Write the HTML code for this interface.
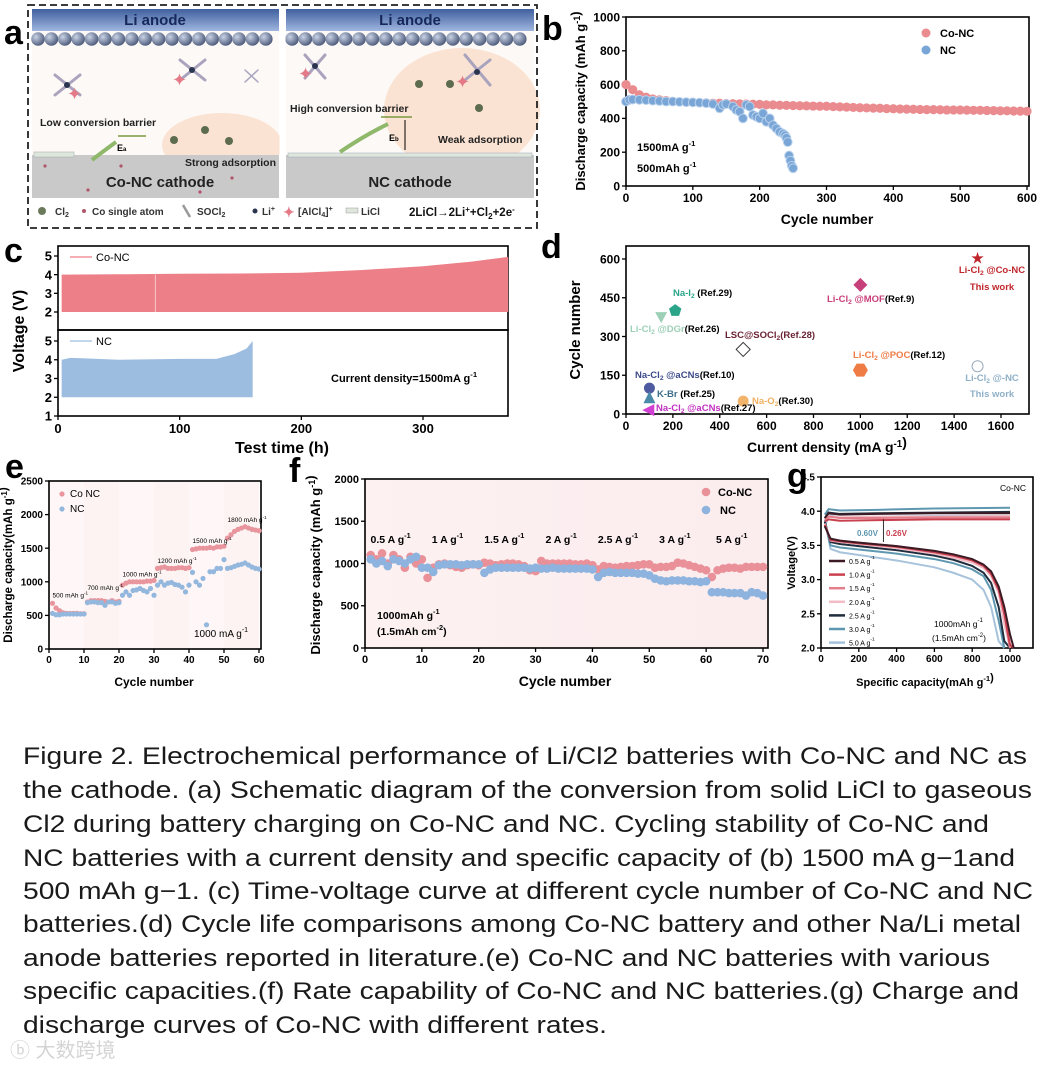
<!DOCTYPE html>
<html><head><meta charset="utf-8">
<style>
body{margin:0;background:#fff;width:1042px;height:1067px;overflow:hidden}
svg{display:block;font-family:"Liberation Sans",Arial,sans-serif}
.b{font-weight:bold}
</style></head>
<body>
<svg id="fig" width="1042" height="1067" viewBox="0 0 1042 1067">
<defs>
<linearGradient id="anode" x1="0" y1="0" x2="0" y2="1"><stop offset="0" stop-color="#3f5f9e"/><stop offset="1" stop-color="#9fb6df"/></linearGradient>
<radialGradient id="sph" cx="0.35" cy="0.35" r="0.7"><stop offset="0" stop-color="#c9d3e6"/><stop offset="1" stop-color="#4a5878"/></radialGradient>
<linearGradient id="fbg" x1="0" y1="0" x2="1" y2="0"><stop offset="0" stop-color="#fdf1f1"/><stop offset="1" stop-color="#fbecee"/></linearGradient>
</defs>

<!-- Panel a : schematic -->
<g>
<rect x="28" y="5" width="509" height="223" fill="#fff"/>
<rect x="32" y="9" width="247" height="189" fill="#fdf9f6"/>
<rect x="286" y="9" width="248" height="189" fill="#fdf9f6"/>
<ellipse cx="222" cy="145" rx="60" ry="32" fill="#fbe3d3"/>
<ellipse cx="462" cy="110" rx="78" ry="62" fill="#fbe3d3"/>
<rect x="32" y="9" width="247" height="22" fill="url(#anode)"/>
<rect x="286" y="9" width="248" height="22" fill="url(#anode)"/>
<text x="155" y="25" text-anchor="middle" class="b" font-size="15" fill="#16285a">Li anode</text>
<text x="410" y="25" text-anchor="middle" class="b" font-size="15" fill="#16285a">Li anode</text>
<g id="spheres"></g>
<rect x="32" y="155" width="247" height="43" fill="#c9c9c9"/>
<rect x="286" y="155" width="248" height="43" fill="#c9c9c9"/>
<rect x="34" y="152" width="40" height="5" fill="#dfe6dc" stroke="#9aa" stroke-width="0.5"/>
<rect x="288" y="153" width="244" height="4" fill="#dfe6dc" stroke="#9ab" stroke-width="0.5"/>
<path d="M92,160 Q105,150 116,142" stroke="#8fb86a" stroke-width="4" fill="none"/>
<path d="M340,152 Q365,135 388,124" stroke="#8fb86a" stroke-width="4" fill="none"/>
<line x1="118" y1="136" x2="146" y2="136" stroke="#7a9a40" stroke-width="1.5"/>
<line x1="381" y1="117" x2="412" y2="117" stroke="#7a9a40" stroke-width="1.5"/>
<line x1="405" y1="150" x2="405" y2="120" stroke="#000" stroke-width="1"/>
<text x="117" y="151" font-size="9" class="b">E<tspan font-size="6">a</tspan></text>
<text x="389" y="141" font-size="9" class="b">E<tspan font-size="6">b</tspan></text>
<text x="40" y="126" font-size="10.5" class="b" fill="#222">Low conversion barrier</text>
<text x="185" y="166" font-size="10.5" class="b" fill="#222">Strong adsorption</text>
<text x="290" y="112" font-size="10.5" class="b" fill="#222">High conversion barrier</text>
<text x="438" y="143" font-size="10.5" class="b" fill="#222">Weak adsorption</text>
<text x="160" y="187" text-anchor="middle" font-size="15" class="b" fill="#222">Co-NC cathode</text>
<text x="410" y="187" text-anchor="middle" font-size="15" class="b" fill="#222">NC cathode</text>
<g stroke="#a9a3be" stroke-width="3" stroke-linecap="round">
<path d="M55,75 L80,95 M80,75 L55,95 M180,60 L205,80 M205,60 L180,80 M305,55 L325,78 M325,55 L305,78 M465,55 L490,85 M490,60 L465,80"/>
<path d="M245,70 L258,82 M258,70 L245,82" stroke-width="1.5"/>
</g>
<g fill="#2b3550">
<circle cx="67" cy="85" r="3"/><circle cx="192" cy="70" r="3"/><circle cx="315" cy="66" r="3"/><circle cx="477" cy="72" r="3"/>
</g>
<g fill="#e47a87" font-size="18">
<text x="67" y="100">✦</text><text x="172" y="86">✦</text><text x="298" y="80">✦</text><text x="455" y="88">✦</text>
</g>
<g fill="#5d6b4e">
<circle cx="174" cy="140" r="4"/><circle cx="205" cy="130" r="4"/><circle cx="229" cy="141" r="4"/><circle cx="419" cy="84" r="4"/><circle cx="450" cy="84" r="4"/><circle cx="479" cy="108" r="4"/>
</g>
<g fill="#b0566a">
<circle cx="45" cy="166" r="1.6"/><circle cx="121" cy="166" r="1.6"/><circle cx="88" cy="190" r="1.6"/><circle cx="200" cy="192" r="1.6"/><circle cx="232" cy="178" r="1.6"/>
</g>
<g font-size="10" class="b" fill="#333">
<circle cx="42" cy="211" r="4" fill="#6b7a5b"/><text x="55" y="215">Cl<tspan font-size="7" dy="2">2</tspan></text>
<circle cx="84" cy="211" r="2" fill="#b0566a"/><text x="92" y="215">Co single atom</text>
<line x1="183" y1="205" x2="190" y2="217" stroke="#999" stroke-width="2.5"/><text x="197" y="215">SOCl<tspan font-size="7" dy="2">2</tspan></text>
<circle cx="255" cy="211" r="2.5" fill="#2b3550"/><text x="262" y="215">Li<tspan font-size="7" dy="-4">+</tspan></text>
<text x="283" y="217" fill="#e47a87" font-size="14">✦</text><text x="298" y="215">[AlCl<tspan font-size="7" dy="2">4</tspan><tspan dy="-2">]</tspan><tspan font-size="7" dy="-4">+</tspan></text>
<rect x="346" y="208" width="12" height="5" fill="#dfe6dc" stroke="#999" stroke-width="0.5"/><text x="361" y="215">LiCl</text>
<text x="409" y="216" font-size="11.5" fill="#111">2LiCl→2Li<tspan font-size="8" dy="-4">+</tspan><tspan dy="4">+Cl</tspan><tspan font-size="8" dy="3">2</tspan><tspan dy="-3">+2e</tspan><tspan font-size="8" dy="-4">-</tspan></text>
</g>
<rect x="28" y="5" width="509" height="223" fill="none" stroke="#222" stroke-width="1.8" stroke-dasharray="7,4"/>
<line x1="282.5" y1="9" x2="282.5" y2="198" stroke="#fff" stroke-width="6"/>
</g>

<!-- panel letters -->
<g class="b" font-size="34" fill="#000">
<text x="4" y="44">a</text>
<text x="542" y="40">b</text>
<text x="4" y="262">c</text>
<text x="541" y="258">d</text>
<text x="5" y="478">e</text>
<text x="289" y="482">f</text>
<text x="787" y="487">g</text>
</g>

<!-- caption -->
<g font-size="24" fill="#1a1a1a" lengthAdjust="spacingAndGlyphs">
<text x="23" y="764" textLength="1004" lengthAdjust="spacingAndGlyphs">Figure 2. Electrochemical performance of Li/Cl2 batteries with Co-NC and NC as</text>
<text x="23" y="798" textLength="1009" lengthAdjust="spacingAndGlyphs">the cathode. (a) Schematic diagram  of the conversion from solid LiCl to gaseous</text>
<text x="23" y="832" textLength="966" lengthAdjust="spacingAndGlyphs">Cl2 during battery charging on Co-NC and NC. Cycling stability of Co-NC and</text>
<text x="23" y="866" textLength="992" lengthAdjust="spacingAndGlyphs">NC batteries with a current density and specific capacity of (b) 1500 mA g−1and</text>
<text x="23" y="899" textLength="1010" lengthAdjust="spacingAndGlyphs">500 mAh g−1. (c) Time-voltage curve at different cycle number of  Co-NC and NC</text>
<text x="23" y="932" textLength="998" lengthAdjust="spacingAndGlyphs">batteries.(d) Cycle life comparisons among Co-NC battery and other Na/Li metal</text>
<text x="23" y="966" textLength="967" lengthAdjust="spacingAndGlyphs">anode batteries reported in literature.(e) Co-NC and NC batteries with various</text>
<text x="23" y="999" textLength="996" lengthAdjust="spacingAndGlyphs">specific capacities.(f) Rate capability of Co-NC and NC batteries.(g) Charge and</text>
<text x="23" y="1033" textLength="584" lengthAdjust="spacingAndGlyphs">discharge curves of Co-NC with different rates.</text>
</g>
<text x="10" y="1057" font-size="20" fill="#d4d4d4" font-family="'Liberation Sans','Noto Sans CJK SC',sans-serif">ⓑ 大数跨境</text>
</svg>

<script>
// ---------- DATA ----------
// panel b (sampled every 10 cycles for Co-NC)
const bCoNC = [600,570,540,525,515,510,505,500,498,495,495,493,492,490,490,488,487,486,485,484,483,480,480,478,477,476,475,474,473,472,472,470,468,467,465,463,462,461,460,458,457,456,455,454,453,452,452,451,450,450,450,449,448,448,447,446,445,445,444,443,442];
const bNcCycles = [0,5,10,20,30,40,50,60,70,80,90,100,110,120,130,140,145,150,160,165,170,175,180,185,190,195,200,205,210,215,220,225,230,235,238,240,242,244,246,248,250];
const bNc = [500,510,512,510,508,505,503,500,500,498,496,495,493,490,485,460,480,485,470,450,440,400,480,470,420,410,400,430,380,400,360,340,320,310,300,285,260,180,150,120,105];
const bXTicks = [0,100,200,300,400,500,600];
const bYTicks = [0,200,400,600,800,1000];
// panel c
const cCoTimes = [3,50,100,150,200,250,300,340,370];
const cCoUpper = [4.0,4.02,4.05,4.06,4.1,4.25,4.45,4.7,4.95];
const cNcTimes = [3,10,20,50,100,130,145,155,160];
const cNcUpper = [4.0,4.1,4.08,4.0,4.05,4.05,4.3,4.6,5.0];
const cLower = 2.0;
const cXTicks = [0,100,200,300];
const cTopYTicks = [2,3,4,5];
const cBotYTicks = [1,2,3,4,5];
// panel d
const dNames = ['Li-Cl2 @Co-NC','Li-Cl2 @MOF','Na-I2','Li-Cl2 @DGr','LSC@SOCl2','Li-Cl2 @POC','Li-Cl2 @-NC','Na-Cl2 @aCNs (10)','K-Br','Na-Cl2 @aCNs (27)','Na-O2'];
const dCurrent = [1500,1000,210,150,500,1000,1500,100,100,95,500];
const dCycles = [605,500,400,375,250,170,185,100,65,15,50];
const dXTicks = [0,200,400,600,800,1000,1200,1400,1600];
const dYTicks = [0,150,300,450,600];
// panel e
const eCoNC = [680,610,570,540,530,530,530,530,525,525, 700,720,720,720,720,710,700,720,700,710, 950,980,1000,1000,1000,1000,1000,1010,1010,1020, 1200,1210,1220,1200,1200,1200,1210,1210,1200,1210, 1480,1490,1500,1500,1500,1510,1500,1520,1520,1530, 1650,1700,1750,1780,1800,1820,1800,1780,1770,1760];
const eNC = [530,510,510,520,520,520,520,520,520,520, 690,700,700,690,690,650,700,700,680,690, 800,850,800,870,880,900,870,850,900,800, 950,1000,950,980,990,960,950,920,850,950, 1140,1000,950,1050,360,1150,1150,1200,1200,1330, 1200,1210,1230,1250,1260,1280,1250,1220,1200,1190];
const eXTicks = [0,10,20,30,40,50,60];
const eYTicks = [0,500,1000,1500,2000,2500];
const eRateLabels = ['500 mAh g','700 mAh g','1000 mAh g','1200 mAh g','1500 mAh g','1800 mAh g'];
const eRateCycle = [1,11,21,31,41,51];
const eRateCap = [770,880,1080,1280,1580,1890];
// panel f
const fCoNC = [1100,1050,1120,1000,1100,1050,950,1080,1000,1050, 830,950,990,1000,980,960,950,980,990,980, 1010,1000,980,990,1000,1000,990,970,920,910, 1030,1000,1000,1000,1000,1000,990,990,1000,980, 930,970,960,950,960,970,970,980,990,990, 950,960,960,970,1010,1000,980,960,940,920, 840,920,940,950,950,940,960,960,960,960];
const fNC = [1050,1000,1030,970,1050,1030,1000,1050,1080,950, 950,900,980,990,990,990,980,990,990,990, 890,930,950,950,950,950,950,950,940,950, 940,940,950,940,940,940,940,940,940,930, 840,890,900,890,890,890,890,880,880,860, 820,800,790,800,800,800,790,790,780,790, 660,660,660,650,650,650,620,660,650,620];
const fXTicks = [0,10,20,30,40,50,60,70];
const fYTicks = [0,500,1000,1500,2000];
const fRates = ['0.5','1','1.5','2','2.5','3','5'];
// panel g
const gRates = ['0.5','1.0','1.5','2.0','2.5','3.0','5.0'];
const gCap = [20,50,100,200,400,600,700,800,860,900,940,970,1000,1020];
const gV05 = [3.78,3.60,3.57,3.54,3.49,3.42,3.37,3.30,3.22,3.12,2.90,2.60,2.20,2.00];
const gV10 = [3.80,3.58,3.56,3.53,3.48,3.40,3.35,3.28,3.20,3.08,2.85,2.50,2.05,2.00];
const gV15 = [3.80,3.59,3.57,3.54,3.49,3.41,3.36,3.29,3.21,3.10,2.88,2.50,2.00,2.00];
const gV20 = [3.82,3.57,3.55,3.52,3.46,3.38,3.32,3.25,3.17,3.05,2.80,2.35,2.00,2.00];
const gV25 = [3.85,3.55,3.52,3.49,3.43,3.35,3.29,3.20,3.10,2.95,2.60,2.10,2.00,2.00];
const gV30 = [3.85,3.50,3.47,3.44,3.38,3.30,3.24,3.15,3.05,2.85,2.40,2.00,2.00,2.00];
const gV50 = [3.88,3.45,3.40,3.36,3.28,3.18,3.10,3.00,2.85,2.60,2.10,2.00,2.00,2.00];
const gChargeCap = [20,40,100,300,600,1000];
const gC05 = [3.90,3.97,3.95,3.96,3.97,3.97];
const gC10 = [3.85,3.88,3.86,3.87,3.88,3.88];
const gC15 = [3.88,3.92,3.90,3.90,3.91,3.91];
const gC20 = [3.88,3.93,3.91,3.92,3.92,3.93];
const gC25 = [3.90,3.98,3.96,3.97,3.98,3.99];
const gC30 = [3.95,4.03,4.01,4.02,4.04,4.05];
const gC50 = [3.75,3.95,3.90,3.92,3.93,3.93];
const gXTicks = [0,200,400,600,800,1000];
const gYTicks = [2.0,2.5,3.0,3.5,4.0,4.5];

// ---------- HELPERS ----------
const NS='http://www.w3.org/2000/svg';
const root=document.getElementById('fig');
function el(tag,at,p){const e=document.createElementNS(NS,tag);for(const k in at)e.setAttribute(k,at[k]);(p||root).appendChild(e);return e;}
function tx(p,x,y,s,at){const e=el('text',Object.assign({x:x,y:y},at||{}),p);e.innerHTML=s;return e;}
function sc(d0,d1,r0,r1){return v=>r0+(v-d0)*(r1-r0)/(d1-d0);}
const SUP='<tspan font-size="70%" dy="-5">-1</tspan>';
function group(name){const g=el('g',{});return g;}
function axes(g,box,X,Y,xt,yt,fs,xfmt,yfmt,noX){
  const r=el('rect',{x:box[0],y:box[2],width:box[1]-box[0],height:box[3]-box[2],fill:'none',stroke:'#000','stroke-width':1.6},g);
  
  
  if(!noX) xt.forEach(v=>{const x=X(v);
    const t=el('line',{x1:x,x2:x,y1:box[3],y2:box[3]+4,stroke:'#000','stroke-width':1.3},g);
    
    
    const l=tx(g,x,box[3]+fs+4,xfmt?xfmt(v):v,{'text-anchor':'middle','font-size':fs,'font-weight':'bold'});
    
    });
  yt.forEach(v=>{const y=Y(v);
    const t=el('line',{x1:box[0]-4,x2:box[0],y1:y,y2:y,stroke:'#000','stroke-width':1.3},g);
    
    
    const l=tx(g,box[0]-6,y+fs*0.36,yfmt?yfmt(v):v,{'text-anchor':'end','font-size':fs,'font-weight':'bold'});
    
    });
}
function ytitle(g,x,y,s,fs){const t=tx(g,0,0,s,{transform:`translate(${x},${y}) rotate(-90)`,'text-anchor':'middle','font-size':fs,'font-weight':'bold'});}
function xtitle(g,x,y,s,fs){const t=tx(g,x,y,s,{'text-anchor':'middle','font-size':fs,'font-weight':'bold'});}

// sphere rows for panel a
(function(){const g=document.getElementById('spheres');
 [[32,279],[286,534]].forEach(([a,b])=>{for(let x=a+6;x<=b-5;x+=13.4){const c=el('circle',{cx:x,cy:39,r:6.8,fill:'url(#sph)'},g);}});})();

// ---------- PANEL B ----------
(function(){const g=group('panel-b-cycling');
 const box=[626,1029,17,186];const X=sc(0,600,626,1027),Y=sc(0,1000,186,17);
 axes(g,box,X,Y,bXTicks,bYTicks,12);
 bCoNC.forEach((v,i)=>{const c=el('circle',{cx:X(i*10),cy:Y(v),r:4.6,fill:'#ea8b8f'},g);});
 bNcCycles.forEach((cy,i)=>{const c=el('circle',{cx:X(cy),cy:Y(bNc[i]),r:4.4,fill:'#79a6d6',stroke:'#b9d1ec','stroke-width':1},g);});
 const l1=el('circle',{cx:926,cy:33,r:4.5,fill:'#ea8b8f'},g);
 const t1=tx(g,940,37,'Co-NC',{'font-size':11,'font-weight':'bold'});
 const l2=el('circle',{cx:926,cy:50,r:4.5,fill:'#79a6d6'},g);
 const t2=tx(g,940,54,'NC',{'font-size':11,'font-weight':'bold'});
 const a1=tx(g,637,151,'1500mA g'+SUP,{'font-size':11,'font-weight':'bold'});
 const a2=tx(g,637,172,'500mAh g'+SUP,{'font-size':11,'font-weight':'bold'});
 ytitle(g,585,101,'Discharge capacity (mAh g'+SUP+')',13);
 xtitle(g,827,224,'Cycle number',14);
})();

// ---------- PANEL C ----------
(function(){const g=group('panel-c-voltage-time');
 const X=sc(0,300,58,423);
 const Yt=sc(2,5,312,256),Yb=sc(1,5,416,341);
 axes(g,[58,508,246,330],X,Yt,cXTicks,cTopYTicks,13,null,null,true);
 axes(g,[58,508,330,416],X,Yb,cXTicks,cBotYTicks,13);
 let p=cCoTimes.map((t,i)=>X(t)+','+Yt(cCoUpper[i])).join(' ')+' '+X(cCoTimes[cCoTimes.length-1])+','+Yt(cLower)+' '+X(cCoTimes[0])+','+Yt(cLower);
 const a=el('polygon',{points:p,fill:'#ec7f87'},g);
 const w=el('line',{x1:X(80),x2:X(80),y1:Yt(4),y2:Yt(2),stroke:'#f8c8cc','stroke-width':1},g);
 p=cNcTimes.map((t,i)=>X(t)+','+Yb(cNcUpper[i])).join(' ')+' '+X(cNcTimes[cNcTimes.length-1])+','+Yb(cLower)+' '+X(cNcTimes[0])+','+Yb(cLower);
 const b=el('polygon',{points:p,fill:'#9dbde0'},g);
 const l1=el('line',{x1:70,x2:92,y1:257,y2:257,stroke:'#ec7f87','stroke-width':1.2},g);
 const t1=tx(g,96,261,'Co-NC',{'font-size':11});
 const l2=el('line',{x1:70,x2:92,y1:341,y2:341,stroke:'#9dbde0','stroke-width':1.2},g);
 const t2=tx(g,96,345,'NC',{'font-size':11});
 const n=tx(g,331,382,'Current density=1500mA g'+SUP,{'font-size':11,'font-weight':'bold'});
 ytitle(g,24,331,'Voltage (V)',16);
 xtitle(g,282,453,'Test time (h)',16);
})();

// ---------- PANEL D ----------
(function(){const g=group('panel-d-comparison');
 const X=sc(0,1600,626,1001),Y=sc(0,600,414,259);
 axes(g,[626,1029,246,414],X,Y,dXTicks,dYTicks,12);
 const cols=['#c0272d','#c8407a','#2aa58a','#9dd0b6','#fff','#ef7b45','#fff','#4f5ba0','#4a8aa8','#d23fd3','#f2b36b'];
 const shapes=['star','diamond','pent','tdown','odiamond','hex','ocircle','circle','tup','tleft','circle'];
 dCurrent.forEach((c,i)=>{const x=X(c),y=Y(dCycles[i]);let e;const s=shapes[i];
  if(s==='star')e=tx(g,x,y+6,'★',{'text-anchor':'middle','font-size':16,fill:cols[i]});
  else if(s==='diamond'||s==='odiamond')e=el('polygon',{points:`${x},${y-7} ${x+7},${y} ${x},${y+7} ${x-7},${y}`,fill:cols[i],stroke:s==='odiamond'?'#333':'none','stroke-width':1},g);
  else if(s==='pent'){let pts=[];for(let k=0;k<5;k++){const a=-Math.PI/2+k*2*Math.PI/5;pts.push((x+6.5*Math.cos(a))+','+(y+6.5*Math.sin(a)));}e=el('polygon',{points:pts.join(' '),fill:cols[i]},g);}
  else if(s==='hex'){let pts=[];for(let k=0;k<6;k++){const a=k*Math.PI/3;pts.push((x+7.5*Math.cos(a))+','+(y+7.5*Math.sin(a)));}e=el('polygon',{points:pts.join(' '),fill:cols[i]},g);}
  else if(s==='tdown')e=el('polygon',{points:`${x-6},${y-5} ${x+6},${y-5} ${x},${y+6}`,fill:cols[i]},g);
  else if(s==='tup')e=el('polygon',{points:`${x-6},${y+6} ${x+6},${y+6} ${x},${y-6}`,fill:cols[i]},g);
  else if(s==='tleft')e=el('polygon',{points:`${x+6},${y-6} ${x+6},${y+6} ${x-6},${y}`,fill:cols[i]},g);
  else if(s==='ocircle')e=el('circle',{cx:x,cy:y,r:5.5,fill:'#fff',stroke:'#9ab',"stroke-width":1},g);
  else e=el('circle',{cx:x,cy:y,r:5.5,fill:cols[i]},g);
  
  });
 const S='<tspan font-size="70%" dy="2">2</tspan><tspan dy="-2"> </tspan>';
 const labs=[[992,273,'Li-Cl'+S+'@Co-NC','#c0272d','middle'],[992,290,'This work','#c0272d','middle'],
  [827,302,'Li-Cl'+S+'@MOF<tspan fill="#000">(Ref.9)</tspan>','#c8407a','start'],
  [673,296,'Na-I'+S+'<tspan fill="#000">(Ref.29)</tspan>','#2aa58a','start'],
  [630,332,'Li-Cl'+S+'@DGr<tspan fill="#000">(Ref.26)</tspan>','#9dd0b6','start'],
  [725,338,'LSC@SOCl<tspan font-size="70%" dy="2">2</tspan><tspan dy="-2">(Ref.28)</tspan>','#6b2233','start'],
  [853,358,'Li-Cl'+S+'@POC<tspan fill="#000">(Ref.12)</tspan>','#ef7b45','start'],
  [992,381,'Li-Cl'+S+'@-NC','#8fb0c8','middle'],[992,397,'This work','#8fb0c8','middle'],
  [635,378,'Na-Cl'+S+'@aCNs<tspan fill="#000">(Ref.10)</tspan>','#3c4a8a','start'],
  [657,397,'K-Br <tspan fill="#000">(Ref.25)</tspan>','#3c6e8a','start'],
  [656,411,'Na-Cl'+S+'@aCNs<tspan fill="#000">(Ref.27)</tspan>','#c030c0','start'],
  [752,404,'Na-O<tspan font-size="70%" dy="2">2</tspan><tspan dy="-2" fill="#000">(Ref.30)</tspan>','#f0b060','start']];
 labs.forEach(l=>{const t=tx(g,l[0],l[1],l[2],{'font-size':9.5,'font-weight':'bold',fill:l[3],'text-anchor':l[4]});});
 ytitle(g,580,330,'Cycle number',15);
 xtitle(g,827,452,'Current density (mA g'+SUP+')',14);
})();

// ---------- PANEL E ----------
(function(){const g=group('panel-e-capacities');
 const X=sc(0,60,49,259),Y=sc(0,2500,649,481);
 for(let k=0;k<6;k++){const r=el('rect',{x:X(k*10),y:481,width:X(10)-X(0),height:168,fill:k%2?'#fdf3f3':'#fff7f7'},g);}
 axes(g,[49,261,481,649],X,Y,eXTicks,eYTicks,10);
 eCoNC.forEach((v,i)=>{const c=el('circle',{cx:X(i+1),cy:Y(v),r:2.6,fill:'#e8959d'},g);});
 eNC.forEach((v,i)=>{const c=el('circle',{cx:X(i+1),cy:Y(v),r:2.6,fill:'#94b7de'},g);});
 eRateLabels.forEach((s,i)=>{const t=tx(g,X(eRateCycle[i]),Y(eRateCap[i]),s+'<tspan font-size="70%" dy="-3">-1</tspan>',{'font-size':6.5});});
 const m1=el('circle',{cx:62,cy:494,r:2.6,fill:'#e8959d'},g);
 const t1=tx(g,70,497,'Co NC',{'font-size':10});
 const m2=el('circle',{cx:62,cy:509,r:2.6,fill:'#94b7de'},g);
 const t2=tx(g,70,512,'NC',{'font-size':10});
 const n=tx(g,194,637,'1000 mA g'+SUP,{'font-size':10});
 ytitle(g,12,565,'Discharge capacity(mAh g'+SUP+')',11.5);
 xtitle(g,154,686,'Cycle number',12);
})();

// ---------- PANEL F ----------
(function(){const g=group('panel-f-rate');
 const X=sc(0,70,365,763),Y=sc(0,2000,648,479);
 const bg=el('rect',{x:365,y:479,width:403,height:169,fill:'url(#fbg)'},g);
 axes(g,[365,768,479,648],X,Y,fXTicks,fYTicks,11);
 fCoNC.forEach((v,i)=>{const c=el('circle',{cx:X(i+1),cy:Y(v),r:4.3,fill:'#e99098'},g);});
 fNC.forEach((v,i)=>{const c=el('circle',{cx:X(i+1),cy:Y(v),r:4.3,fill:'#8db3de'},g);});
 fRates.forEach((s,i)=>{const t=tx(g,X(i*10+4.5),543,s+' A g'+SUP,{'font-size':10.5,'font-weight':'bold','text-anchor':'middle'});});
 const m1=el('circle',{cx:706,cy:492,r:4.3,fill:'#e99098'},g);
 const t1=tx(g,718,496,'Co-NC',{'font-size':11,'font-weight':'bold'});
 const m2=el('circle',{cx:706,cy:510,r:4.3,fill:'#8db3de'},g);
 const t2=tx(g,720,514,'NC',{'font-size':11,'font-weight':'bold'});
 const n1=tx(g,377,619,'1000mAh g'+SUP,{'font-size':10.5,'font-weight':'bold'});
 const n2=tx(g,377,635,'(1.5mAh cm<tspan font-size="70%" dy="-5">-2</tspan><tspan dy="5">)</tspan>',{'font-size':10.5,'font-weight':'bold'});
 ytitle(g,320,565,'Discharge capacity (mAh g'+SUP+')',13);
 xtitle(g,565,686,'Cycle number',14);
})();

// ---------- PANEL G ----------
(function(){const g=group('panel-g-curves');
 const X=sc(0,1000,821,1010),Y=sc(2,4.5,648,477);
 axes(g,[821,1033,477,648],X,Y,gXTicks,gYTicks,10,null,v=>v.toFixed(1));
 const cols=['#3b1a24','#c9404f','#e37e8b','#f2bcc6','#1f2d3d','#5e97b0','#a7c3dc'];
 const dis=[gV05,gV10,gV15,gV20,gV25,gV30,gV50],chg=[gC05,gC10,gC15,gC20,gC25,gC30,gC50];
 for(let k=6;k>=0;k--){
  let pts=[];for(let i=0;i<gCap.length;i++){pts.push(X(gCap[i])+','+Y(dis[k][i]));if(dis[k][i]<=2.0)break;}
  const d=el('polyline',{points:pts.join(' '),fill:'none',stroke:cols[k],'stroke-width':2},g);
  const c=el('polyline',{points:gChargeCap.map((v,i)=>X(v)+','+Y(chg[k][i])).join(' '),fill:'none',stroke:cols[k],'stroke-width':2},g);
 }
 gRates.forEach((r,i)=>{const y=561+i*13.6;
  const l=el('line',{x1:829,x2:845,y1:y,y2:y,stroke:cols[i],'stroke-width':2.5},g);
  const t=tx(g,849,y+3,r+' A g'+SUP,{'font-size':7});});
 const ar=el('line',{x1:X(330),x2:X(330),y1:Y(3.88),y2:Y(3.55),stroke:'#000','stroke-width':0.8},g);
 const v1=tx(g,857,536,'0.60V',{'font-size':8,fill:'#5e97b0','font-weight':'bold'});
 const v2=tx(g,886,536,'0.26V',{'font-size':8,fill:'#c9404f','font-weight':'bold'});
 const c1=tx(g,1013,491,'Co-NC',{'font-size':8.5,'text-anchor':'middle'});
 const n1=tx(g,934,627,'1000mAh g'+SUP,{'font-size':8.5});
 const n2=tx(g,932,641,'(1.5mAh cm<tspan font-size="70%" dy="-4">-2</tspan><tspan dy="4">)</tspan>',{'font-size':8.5});
 ytitle(g,795,563,'Voltage(V)',11);
 xtitle(g,925,686,'Specific capacity(mAh g'+SUP+')',11);
})();
</script>
</body></html>
